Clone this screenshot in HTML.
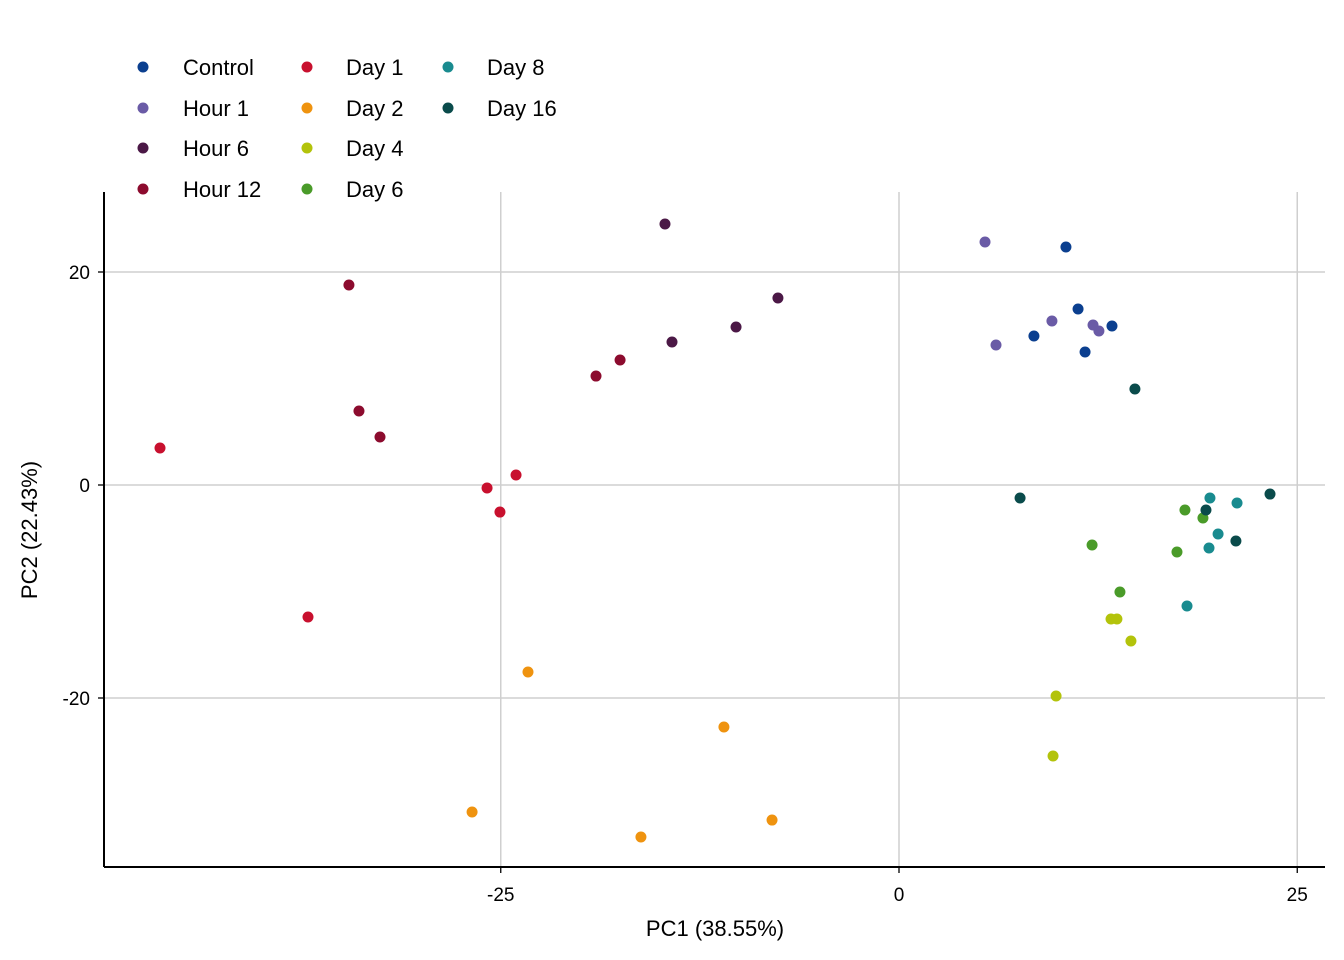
<!DOCTYPE html>
<html><head><meta charset="utf-8">
<style>
html,body{margin:0;padding:0;background:#fff;}
svg{display:block;font-family:"Liberation Sans",Arial,sans-serif;}
</style></head>
<body>
<svg id="chart" width="1344" height="960" viewBox="0 0 1344 960" xmlns="http://www.w3.org/2000/svg">
<g id="grid"></g>
<g id="axes"></g>
<g id="points"></g>
<g id="legend"></g>
<text x="715" y="936" font-size="22" text-anchor="middle" fill="#000">PC1 (38.55%)</text>
<text transform="translate(37,530) rotate(-90)" font-size="22" text-anchor="middle" fill="#000">PC2 (22.43%)</text>
</svg>
<script>
const groups = ["Control","Hour 1","Hour 6","Hour 12","Day 1","Day 2","Day 4","Day 6","Day 8","Day 16"];
const colors = ["#0b3f8f","#6a5ba6","#4b1846","#8c0b2e","#c8102e","#ef930f","#b3c30b","#4a9b29","#198b8f","#0a4b4b"];
const pc1 = [
 [10.48,11.24,8.47,11.68,13.37],
 [5.40,6.09,9.60,12.18,12.55],
 [-14.69,-7.60,-10.23,-14.25],
 [-34.53,-33.90,-32.58,-19.02,-17.51],
 [-46.39,-37.10,-25.86,-25.05,-24.04],
 [-23.29,-10.99,-26.80,-16.20,-7.97],
 [9.86,9.67,13.31,13.68,14.56],
 [17.95,19.08,12.12,17.45,13.87],
 [19.52,21.22,20.03,19.46,18.08],
 [14.81,7.60,19.27,21.15,23.29]
];
const pc2 = [
 [22.35,16.53,13.99,12.49,14.93],
 [22.82,13.15,15.40,15.02,14.46],
 [24.51,17.56,14.84,13.43],
 [18.78,6.95,4.51,10.23,11.74],
 [3.47,-12.39,-0.28,-2.54,0.94],
 [-17.56,-22.72,-30.70,-33.05,-31.46],
 [-19.81,-25.45,-12.58,-12.58,-14.65],
 [-2.35,-3.10,-5.63,-6.29,-10.05],
 [-1.22,-1.69,-4.60,-5.92,-11.36],
 [9.01,-1.22,-2.35,-5.26,-0.85]
];
const xTicks = [-25,0,25];
const yTicks = [-20,0,20];

const NS="http://www.w3.org/2000/svg";
const L=104,R=1325,T=192,B=867;
function sx(v){return 899+v*15.93;}
function sy(v){return 485-v*10.65;}
function mk(tag,attrs,parent){const e=document.createElementNS(NS,tag);for(const k in attrs)e.setAttribute(k,attrs[k]);parent.appendChild(e);return e;}
const grid=document.getElementById('grid'),axes=document.getElementById('axes'),pts=document.getElementById('points'),leg=document.getElementById('legend');
xTicks.forEach(t=>{
 const g=mk('line',{x1:sx(t),x2:sx(t),y1:T,y2:B,stroke:'#cfcfcf','stroke-width':1.5},grid);
 
 
 const tk=mk('line',{x1:sx(t),x2:sx(t),y1:B,y2:B+6,stroke:'#000','stroke-width':1.3},axes);
 
 
 const tx=mk('text',{x:sx(t),y:B+34,'font-size':19,'text-anchor':'middle',fill:'#000'},axes);
 tx.textContent=t;
 
 
});
yTicks.forEach(t=>{
 const g=mk('line',{x1:L,x2:R,y1:sy(t),y2:sy(t),stroke:'#cfcfcf','stroke-width':1.5},grid);
 
 
 const tk=mk('line',{x1:L-6,x2:L,y1:sy(t),y2:sy(t),stroke:'#000','stroke-width':1.3},axes);
 
 
 const tx=mk('text',{x:L-14,y:sy(t)+7,'font-size':19,'text-anchor':'end',fill:'#000'},axes);
 tx.textContent=t;
 
 
});
const xa=mk('line',{x1:L,x2:R,y1:B,y2:B,stroke:'#000','stroke-width':2},axes);


const ya=mk('line',{x1:L,x2:L,y1:T,y2:B,stroke:'#000','stroke-width':2},axes);


groups.forEach((g,i)=>{
 pc1[i].forEach((v,j)=>{
  const c=mk('circle',{cx:sx(v),cy:sy(pc2[i][j]),r:5.5,fill:colors[i]},pts);
  
  
 });
});
const legCols=[[143,183],[307,346],[448,487]];
const legRows=[67,108,148,189];
const layout=[[0,0],[0,1],[0,2],[0,3],[1,0],[1,1],[1,2],[1,3],[2,0],[2,1]];
groups.forEach((g,i)=>{
 const [c,r]=layout[i];
 const ge=mk('g',{},leg);
 
 
 mk('circle',{cx:legCols[c][0],cy:legRows[r],r:5.5,fill:colors[i]},ge);
 const t=mk('text',{x:legCols[c][1],y:legRows[r]+8,'font-size':22,fill:'#000'},ge);
 t.textContent=g;
});
</script>
</body></html>
